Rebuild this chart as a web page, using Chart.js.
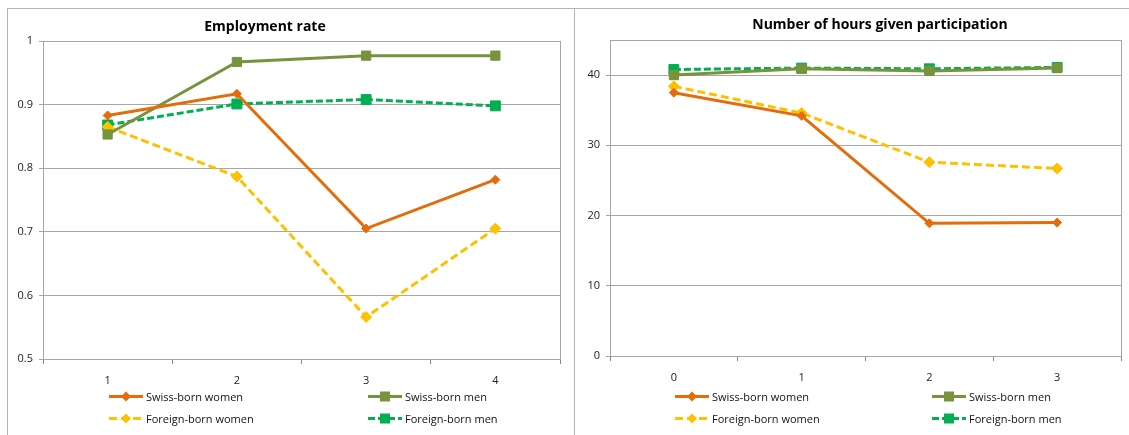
<!DOCTYPE html>
<html>
<head>
  <title>Employment rate / hours</title>
  <script src="https://cdn.jsdelivr.net/npm/chart.js"></script>
  <style>
    body { margin: 0; background: #fff; width: 1129px; height: 435px; overflow: hidden; position: relative; font-family: "Open Sans", sans-serif; }
    canvas { position: absolute; }
    .frame { position: absolute; border-left: 1px solid #b4b4b4; border-top: 1px solid #b4b4b4; }
    .title { position: absolute; font-weight: bold; font-size: 14px; color: #000; transform: translate(-50%, -50%); white-space: nowrap; }
    .leg { position: absolute; font-size: 11px; color: #111; white-space: nowrap; display: flex; align-items: center; transform: translateY(-50%); }
    .leg svg { margin-right: 3px; }
  </style>
</head>
<body>
  <div class="frame" style="left:7px;top:8px;width:1200px;height:500px;"></div>
  <div class="frame" style="left:574px;top:8px;width:600px;height:500px;border-top:none;"></div>
  <canvas id="rateChart" width="566" height="426" style="left:8px;top:9px;"></canvas>
  <canvas id="hoursChart" width="554" height="426" style="left:575px;top:9px;"></canvas>
  <div class="title" style="left:265px;top:25px;">Employment rate</div>
  <div class="title" style="left:880px;top:23px;">Number of hours given participation</div>
  <div id="legends"></div>
  <script>
    // Данные: левый график (доля занятых)
    var rateLabels = ['1', '2', '3', '4'];
    var rateSwissWomen = [0.883, 0.917, 0.705, 0.782];
    var rateSwissMen = [0.853, 0.967, 0.977, 0.977];
    var rateForeignWomen = [0.865, 0.787, 0.566, 0.705];
    var rateForeignMen = [0.868, 0.901, 0.908, 0.898];
    var rateTicks = [0.5, 0.6, 0.7, 0.8, 0.9, 1];

    // Данные: правый график (часы)
    var hoursLabels = ['0', '1', '2', '3'];
    var hoursSwissWomen = [37.5, 34.2, 18.9, 19.0];
    var hoursSwissMen = [40.0, 40.9, 40.6, 41.0];
    var hoursForeignWomen = [38.4, 34.6, 27.6, 26.7];
    var hoursForeignMen = [40.8, 41.0, 40.9, 41.1];
    var hoursTicks = [0, 10, 20, 30, 40];

    var seriesNames = ['Swiss-born women', 'Swiss-born men', 'Foreign-born women', 'Foreign-born men'];
    var styles = [
      { color: '#E46C0A', dash: [], point: 'rectRot', r: 4.5 },
      { color: '#77933C', dash: [], point: 'rect', r: 6.5 },
      { color: '#FFC000', dash: [8, 4], point: 'rectRot', r: 5.5 },
      { color: '#00B050', dash: [7, 3], point: 'rect', r: 7 }
    ];

    function makeDatasets(values) {
      return values.map(function (v, i) {
        var s = styles[i];
        return {
          label: seriesNames[i],
          data: v,
          borderColor: s.color,
          backgroundColor: s.color,
          borderWidth: 3,
          borderDash: s.dash,
          pointStyle: s.point,
          pointRadius: s.r,
          pointHoverRadius: s.r,
          pointBackgroundColor: s.color,
          pointBorderColor: s.color,
          pointBorderWidth: 1,
          tension: 0
        };
      });
    }

    // Рамка области построения
    var plotBorder = {
      id: 'plotBorder',
      beforeDatasetsDraw: function (chart) {
        var a = chart.chartArea, ctx = chart.ctx;
        ctx.save();
        ctx.strokeStyle = '#a6a6a6';
        ctx.lineWidth = 1;
        ctx.strokeRect(Math.round(a.left) + 0.5, Math.round(a.top) + 0.5, Math.round(a.right - a.left), Math.round(a.bottom - a.top));
        ctx.restore();
      }
    };

    function makeChart(id, labels, values, yMin, yMax, yTicks, pad) {
      var ctx = document.getElementById(id).getContext('2d');
      return new Chart(ctx, {
        type: 'line',
        data: { labels: labels, datasets: makeDatasets(values) },
        plugins: [plotBorder],
        options: {
          responsive: false,
          animation: false,
          devicePixelRatio: 1,
          layout: { padding: pad },
          plugins: { legend: { display: false }, title: { display: false }, tooltip: { enabled: false } },
          scales: {
            x: {
              offset: true,
              afterFit: function (s) { s.height = 25; },
              grid: { offset: true, drawOnChartArea: false, drawTicks: true, tickLength: 5, color: '#868686' },
              border: { color: '#868686' },
              ticks: { padding: 10, color: '#222', font: { family: 'Open Sans', size: 11 } }
            },
            y: {
              min: yMin,
              max: yMax,
              afterFit: function (s) { s.width = 35; },
              afterBuildTicks: function (s) { s.ticks = yTicks.map(function (t) { return { value: t }; }); },
              grid: { color: '#a6a6a6', tickLength: 4, drawTicks: true },
              border: { color: '#868686' },
              ticks: {
                padding: 6, color: '#222', font: { family: 'Open Sans', size: 11 },
                callback: function (v) { return String(v); }
              }
            }
          }
        }
      });
    }

    makeChart('rateChart', rateLabels,
      [rateSwissWomen, rateSwissMen, rateForeignWomen, rateForeignMen],
      0.5, 1, rateTicks, { left: 0, right: 14, top: 32, bottom: 51 });
    makeChart('hoursChart', hoursLabels,
      [hoursSwissWomen, hoursSwissMen, hoursForeignWomen, hoursForeignMen],
      0, 45, hoursTicks, { left: 0, right: 7, top: 31, bottom: 54 });

    // Легенды в две колонки, как в Excel
    function sampleSvg(s) {
      var w = 34, h = 14, cx = w / 2, cy = h / 2;
      var marker = s.point === 'rect'
        ? '<rect x="' + (cx - 5) + '" y="' + (cy - 5) + '" width="10" height="10" fill="' + s.color + '"/>'
        : '<polygon points="' + cx + ',' + (cy - 5) + ' ' + (cx + 5) + ',' + cy + ' ' + cx + ',' + (cy + 5) + ' ' + (cx - 5) + ',' + cy + '" fill="' + s.color + '"/>';
      return '<svg width="' + w + '" height="' + h + '"><line x1="0" y1="' + cy + '" x2="' + w + '" y2="' + cy +
        '" stroke="' + s.color + '" stroke-width="3" stroke-dasharray="' + (s.dash.length ? s.dash.join(',') : 'none') + '"/>' + marker + '</svg>';
    }

    function makeLegend(cols, rows) {
      var box = document.getElementById('legends');
      seriesNames.forEach(function (name, i) {
        var d = document.createElement('div');
        d.className = 'leg';
        d.style.left = cols[i % 2] + 'px';
        d.style.top = rows[Math.floor(i / 2)] + 'px';
        d.innerHTML = sampleSvg(styles[i]) + '<span>' + name + '</span>';
        box.appendChild(d);
      });
    }
    makeLegend([109, 368], [396, 418]);
    makeLegend([675, 932], [396, 418]);
  </script>
</body>
</html>
